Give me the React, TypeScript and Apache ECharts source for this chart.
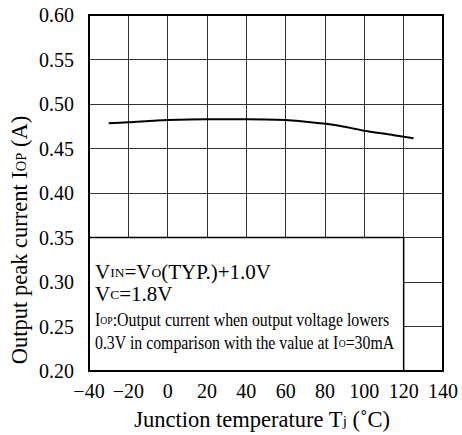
import React, { useEffect, useRef } from "react";
import * as echarts from "echarts";

const temps = [-30, -20, 0, 20, 40, 60, 70, 85, 100, 115, 125];
const peakCurrent = [0.4783, 0.4795, 0.482, 0.483, 0.483, 0.482, 0.48, 0.4765, 0.47, 0.465, 0.4615];
const xTicks = { min: -40, max: 140, step: 20 };
const yTicks = { min: 0.2, max: 0.6, step: 0.05 };
const noteBox = { x0: -40, x1: 120, y0: 0.2, y1: 0.35 };

const SERIF = "'Liberation Serif', 'Times New Roman', serif";

export default function App() {
  const ref = useRef<HTMLDivElement>(null);
  useEffect(() => {
    document.body.style.margin = "0";
    const chart = echarts.init(ref.current!, null, { renderer: "svg" });
    const grid = { left: 89, right: 19, top: 15, bottom: 64 };
    const mk = (size: number) => ({ fontFamily: SERIF, fontSize: size, verticalAlign: "bottom", lineHeight: size });
    const sub = (size: number, line: number) => ({
      fontFamily: SERIF,
      fontSize: size,
      verticalAlign: "bottom",
      lineHeight: line,
      padding: [0, 0, Math.round(line * 0.15), 0],
    });
    const note = {
      n: mk(18),
      s: sub(11, 18),
    };
    chart.setOption({
      animation: false,
      grid: { ...grid, show: false },
      xAxis: {
        type: "value",
        min: xTicks.min,
        max: xTicks.max,
        interval: xTicks.step,
        axisLine: { show: false },
        axisTick: { show: false },
        splitLine: { show: true, lineStyle: { color: "#333", width: 1 } },
        axisLabel: {
          color: "#000",
          fontFamily: SERIF,
          fontSize: 20,
          margin: 10,
          formatter: (v: number) => String(v).replace("-", "\u2212"),
        },
      },
      yAxis: {
        type: "value",
        min: yTicks.min,
        max: yTicks.max,
        interval: yTicks.step,
        axisLine: { show: false },
        axisTick: { show: false },
        splitLine: { show: true, lineStyle: { color: "#333", width: 1 } },
        axisLabel: {
          color: "#000",
          fontFamily: SERIF,
          fontSize: 20,
          margin: 15,
          formatter: (v: number) => v.toFixed(2),
        },
      },
      series: [
        {
          type: "line",
          data: temps.map((t, i) => [t, peakCurrent[i]]),
          showSymbol: false,
          smooth: 0.3,
          lineStyle: { color: "#000", width: 2 },
          silent: true,
          markArea: {
            silent: true,
            itemStyle: { color: "#fff", opacity: 1, borderColor: "#000", borderWidth: 1.5 },
            label: { show: false },
            data: [[{ coord: [noteBox.x0, noteBox.y0] }, { coord: [noteBox.x1, noteBox.y1] }]],
          },
        },
      ],
      graphic: [
        {
          type: "rect",
          z: 50,
          shape: { x: grid.left, y: grid.top, width: 462 - grid.left - grid.right, height: 435 - grid.top - grid.bottom },
          style: { fill: "none", stroke: "#000", lineWidth: 2 },
          silent: true,
        },
        {
          type: "text",
          z: 60,
          x: 48,
          y: -12,
          style: {
            text: "Output current (Typical value)",
            fontFamily: "'Liberation Sans', Arial, sans-serif",
            fontWeight: "bold",
            fontSize: 21,
            fill: "#000",
            verticalAlign: "middle",
          },
        },
        {
          type: "text",
          z: 60,
          x: 20,
          y: 240,
          rotation: Math.PI / 2,
          style: {
            text: "{n|Output peak current I}{s|OP}{n| (A)}",
            rich: { n: mk(22.5), s: sub(14.5, 22.5) },
            fill: "#000",
            align: "center",
            verticalAlign: "middle",
          },
        },
        {
          type: "text",
          z: 60,
          x: 262,
          y: 420,
          style: {
            text: "{n|Junction temperature T}{s|j}{n| (\u02DAC)}",
            rich: { n: mk(22.5), s: sub(15, 22.5) },
            fill: "#000",
            align: "center",
            verticalAlign: "middle",
          },
        },
        {
          type: "text",
          z: 60,
          x: 95,
          y: 272,
          style: {
            text: "{n|V}{s|IN}{n|=V}{s|O}{n|(TYP.)+1.0V}",
            rich: { n: mk(21), s: sub(13.5, 21) },
            fill: "#000",
            align: "left",
            verticalAlign: "middle",
          },
        },
        {
          type: "text",
          z: 60,
          x: 95,
          y: 294,
          style: {
            text: "{n|V}{s|C}{n|=1.8V}",
            rich: { n: mk(21), s: sub(13.5, 21) },
            fill: "#000",
            align: "left",
            verticalAlign: "middle",
          },
        },
        {
          type: "text",
          z: 60,
          x: 95,
          y: 320,
          scaleX: 0.88,
          style: {
            text: "{n|I}{s|OP}{n|:Output current when output voltage lowers}",
            rich: note,
            fill: "#000",
            align: "left",
            verticalAlign: "middle",
          },
        },
        {
          type: "text",
          z: 60,
          x: 95,
          y: 343,
          scaleX: 0.88,
          style: {
            text: "{n|0.3V in comparison with the value at I}{s|O}{n|=30mA}",
            rich: note,
            fill: "#000",
            align: "left",
            verticalAlign: "middle",
          },
        },
      ],
    });
    return () => chart.dispose();
  }, []);
  return <div ref={ref} style={{ width: 462, height: 435 }} />;
}
